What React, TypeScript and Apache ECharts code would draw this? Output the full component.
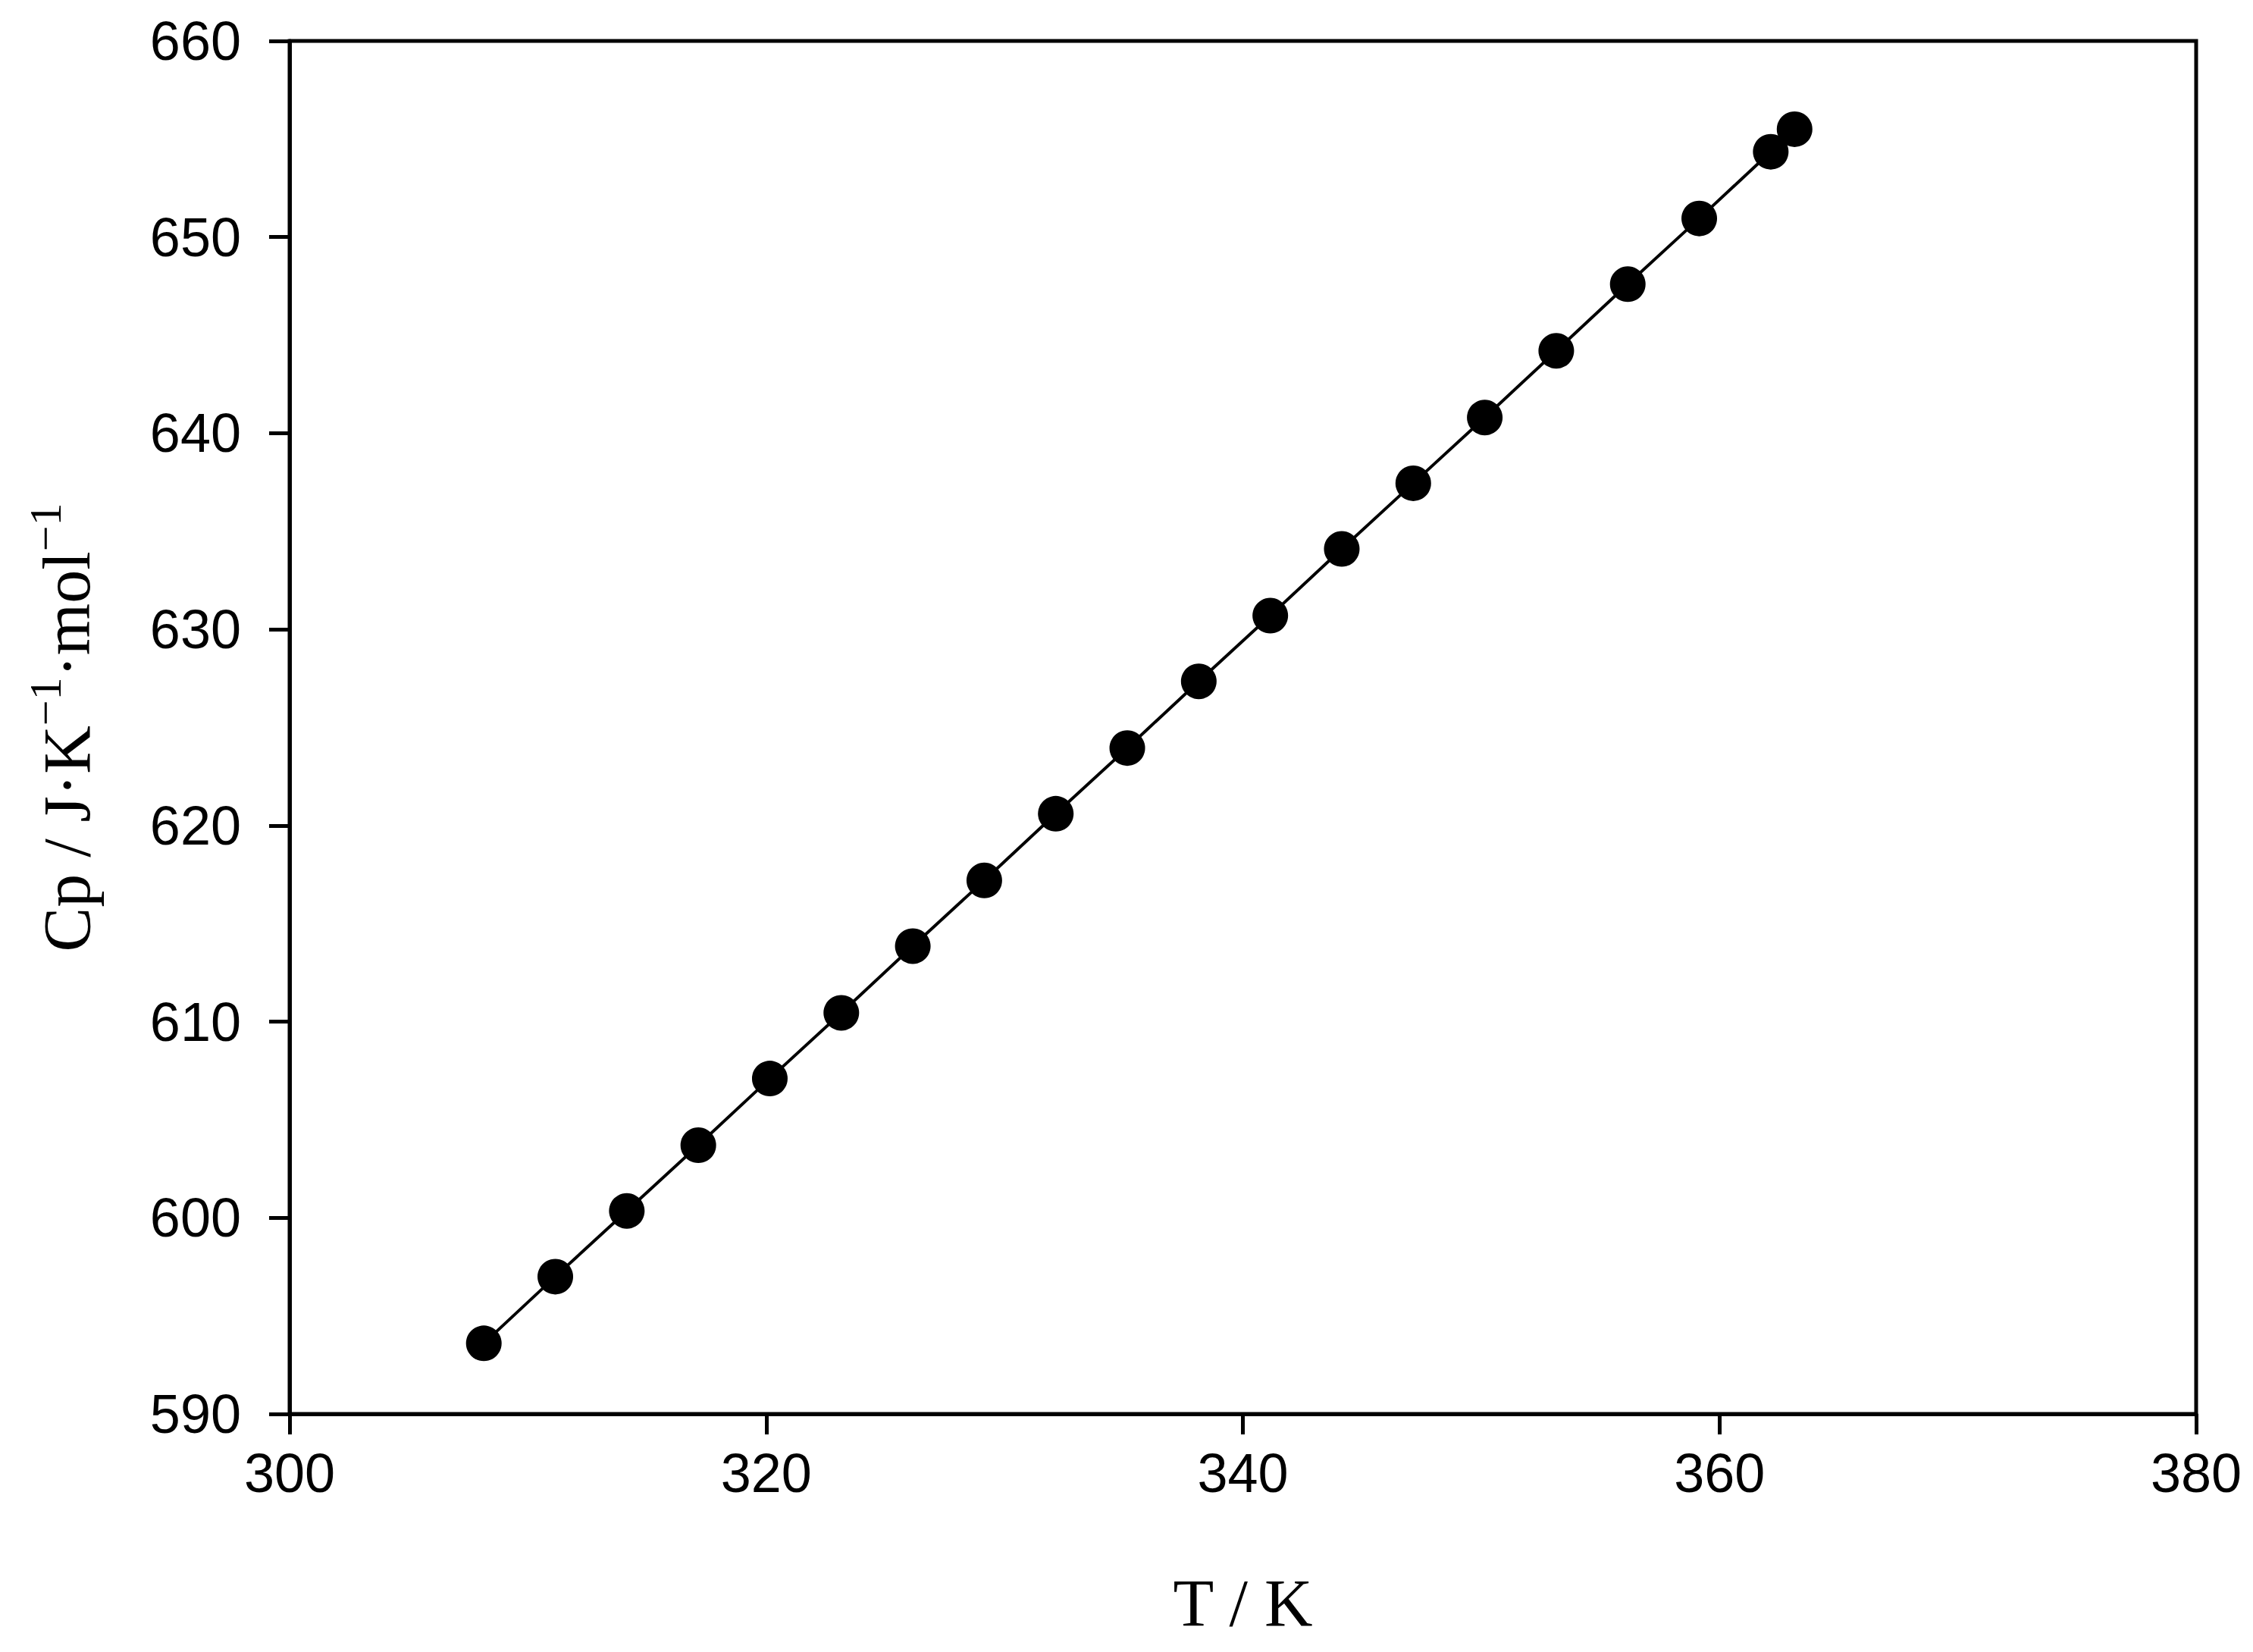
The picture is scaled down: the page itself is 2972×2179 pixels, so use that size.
import React, { useEffect, useRef } from "react";
import * as echarts from "echarts";

const temperatures = [
  308.15, 311.15, 314.15, 317.15, 320.15, 323.15, 326.15, 329.15, 332.15, 335.15,
  338.15, 341.15, 344.15, 347.15, 350.15, 353.15, 356.15, 359.15, 362.15, 363.15,
];
const heatCapacities = [
  593.6, 597.0, 600.35, 603.7, 607.1, 610.45, 613.85, 617.2, 620.6, 623.95,
  627.35, 630.7, 634.1, 637.45, 640.8, 644.2, 647.6, 650.95, 654.35, 655.5,
];
const xTicks = { min: 300, max: 380, interval: 20 };
const yTicks = { min: 590, max: 660, interval: 10 };

export default function App() {
  const ref = useRef<HTMLDivElement>(null);
  useEffect(() => {
    if (!ref.current) return;
    const chart = echarts.init(ref.current, null, { renderer: "svg" });
    const data = temperatures.map((t, i) => [t, heatCapacities[i]]);
    const tickFont = { fontFamily: "Liberation Sans", fontSize: 72, color: "#000" };
    chart.setOption({
      animation: false,
      backgroundColor: "#fff",
      grid: {
        left: 382,
        right: 75,
        top: 54,
        bottom: 314,
        show: true,
        borderColor: "#000",
        borderWidth: 5,
        backgroundColor: "transparent",
      },
      xAxis: {
        type: "value",
        min: xTicks.min,
        max: xTicks.max,
        interval: xTicks.interval,
        name: "T / K",
        nameLocation: "middle",
        nameGap: 205,
        nameTextStyle: { fontFamily: "Liberation Serif", fontSize: 88, color: "#000" },
        axisLine: { show: true, onZero: false, lineStyle: { color: "#000", width: 5 } },
        axisTick: { show: true, inside: false, length: 27, lineStyle: { color: "#000", width: 5 } },
        axisLabel: { ...tickFont, margin: 42 },
        splitLine: { show: false },
      },
      yAxis: {
        type: "value",
        min: yTicks.min,
        max: yTicks.max,
        interval: yTicks.interval,
        name: "{a|Cp / J·K}{b|−1}{a|·mol}{b|−1}",
        nameLocation: "middle",
        nameGap: 250,
        nameRotate: 90,
        nameTextStyle: {
          fontFamily: "Liberation Serif",
          fontSize: 88,
          color: "#000",
          rich: {
            a: { fontFamily: "Liberation Serif", fontSize: 88, color: "#000", verticalAlign: "bottom" },
            b: {
              fontFamily: "Liberation Serif",
              fontSize: 60,
              color: "#000",
              verticalAlign: "bottom",
              padding: [0, 0, 42, 0],
            },
          },
        },
        axisLine: { show: true, onZero: false, lineStyle: { color: "#000", width: 5 } },
        axisTick: { show: true, inside: false, length: 27, lineStyle: { color: "#000", width: 5 } },
        axisLabel: { ...tickFont, margin: 64 },
        splitLine: { show: false },
      },
      series: [
        {
          type: "line",
          data,
          symbol: "circle",
          symbolSize: 47,
          showSymbol: true,
          lineStyle: { color: "#000", width: 4 },
          itemStyle: { color: "#000" },
          z: 3,
        },
      ],
    });
    return () => chart.dispose();
  }, []);
  return (
    <div
      ref={ref}
      style={{ position: "fixed", left: 0, top: 0, width: 2972, height: 2179, background: "#fff" }}
    />
  );
}
